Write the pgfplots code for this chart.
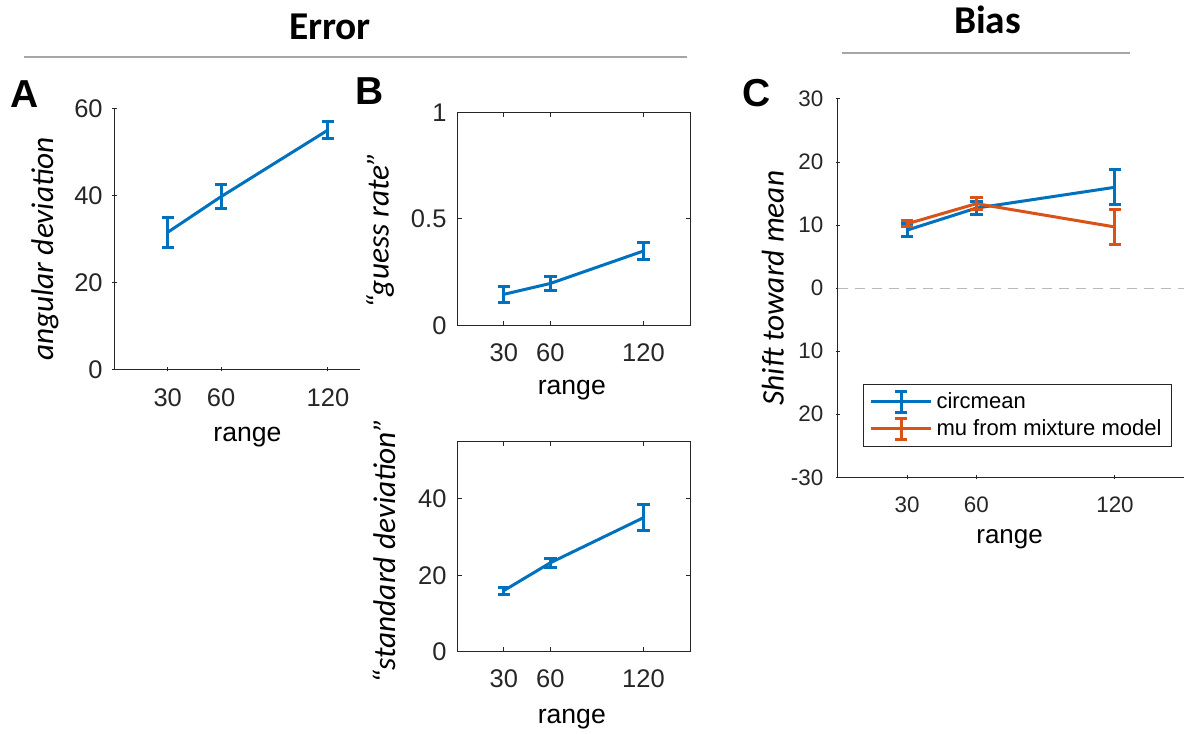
\documentclass[border=0pt]{standalone}
\usepackage{fontspec}
\setmainfont{Liberation Sans}
\newfontfamily\calibri{Carlito}
\usepackage{pgfplots}
\pgfplotsset{compat=1.18}

\definecolor{mblue}{HTML}{0072BD}
\definecolor{morange}{HTML}{D95319}
\definecolor{axgray}{HTML}{262626}

\pgfplotsset{
  matlab/.style={
    scale only axis,
    enlargelimits=false,
    tick align=inside,
    major tick length=2.2pt,
    axis line style={axgray, line width=0.5pt},
    tick style={axgray, line width=0.5pt},
    tick label style={text=axgray},
    /pgf/number format/assume math mode=true,
    xmin=0, xmax=150, xtick={30,60,120},
    ylabel style={font=\calibri\itshape\fontsize{15.7}{18}\selectfont, anchor=center},
    xlabel style={anchor=center},
  },
  errline/.style={
    line width=1.5pt, color=#1, no markers,
    /pgfplots/error bars/y dir=both,
    /pgfplots/error bars/y explicit,
    /pgfplots/error bars/error bar style={line width=1.5pt, color=#1},
    /pgfplots/error bars/error mark options={line width=1.5pt, mark size=3.1pt, color=#1, rotate=90},
  },
  legerr/.style={
    /pgfplots/legend image code/.code={
      \draw[#1, line width=1.5pt] (0pt,0pt) -- (30pt,0pt);
      \draw[#1, line width=1.5pt] (15pt,-5.4pt) -- (15pt,5.4pt);
      \draw[#1, line width=1.5pt] (12pt,-5.4pt) -- (18pt,-5.4pt);
      \draw[#1, line width=1.5pt] (12pt,5.4pt) -- (18pt,5.4pt);
    }
  },
}

\begin{document}
\begin{tikzpicture}
\useasboundingbox (0,0) rectangle (593pt,366.5pt);

% section headers
\node[anchor=base, font=\calibri\bfseries\fontsize{19.7}{22}\selectfont] at (165pt,346.5pt) {Error};
\draw[gray!70, line width=1pt] (12pt,338.15pt) -- (343.5pt,338.15pt);
\node[anchor=base, font=\calibri\bfseries\fontsize{19.7}{22}\selectfont] at (493.75pt,349.85pt) {Bias};
\draw[gray!70, line width=1pt] (420.85pt,339.85pt) -- (565pt,339.85pt);

% panel letters
\node[anchor=base west, inner sep=0pt, font=\bfseries\fontsize{19.5}{22}\selectfont] at (5pt,312.5pt) {A};
\node[anchor=base west, inner sep=0pt, font=\bfseries\fontsize{19.5}{22}\selectfont] at (177.5pt,314pt) {B};
\node[anchor=base west, inner sep=0pt, font=\bfseries\fontsize{19.5}{22}\selectfont] at (370.85pt,313.15pt) {C};

% A: angular deviation
\begin{axis}[matlab,
    at={(57.15pt,181.85pt)}, anchor=south west,
    width=122.85pt, height=130.5pt,
    axis lines=left, axis line style={-},
    xmax=138, ymin=0, ymax=60, ytick={0,20,40,60},
    tick label style={font=\fontsize{12.75}{15}\selectfont},
    xticklabel style={yshift=-5pt},
    yticklabel style={xshift=-1.2pt},
    xlabel={range},
    xlabel style={at={(axis description cs:0.542,-0.259)}, font=\fontsize{13.3}{16}\selectfont},
    ylabel={angular deviation},
    ylabel style={at={(axis description cs:-0.282,0.461)}},
]
\addplot[errline=mblue] coordinates {
    (30,31.5) +- (0,3.5)
    (60,39.7) +- (0,2.7)
    (120,55.0) +- (0,1.9)
};
\end{axis}

% B top: guess rate
\begin{axis}[matlab,
    at={(228.65pt,203.65pt)}, anchor=south west,
    width=116.35pt, height=106.7pt,
    ymin=0, ymax=1, ytick={0,0.5,1},
    tick label style={font=\fontsize{12.75}{15}\selectfont},
    xticklabel style={yshift=-5.4pt},
    yticklabel style={xshift=-1.9pt},
    xlabel={range},
    xlabel style={at={(axis description cs:0.492,-0.301)}, font=\fontsize{13.3}{16}\selectfont},
    ylabel={“guess rate”},
    ylabel style={at={(axis description cs:-0.332,0.448)}},
]
\addplot[errline=mblue] coordinates {
    (30,0.147) +- (0,0.036)
    (60,0.198) +- (0,0.031)
    (120,0.350) +- (0,0.040)
};
\end{axis}

% B bottom: standard deviation
\begin{axis}[matlab,
    at={(228.65pt,40.65pt)}, anchor=south west,
    width=116.35pt, height=105pt,
    ymin=0, ymax=55, ytick={0,20,40},
    tick label style={font=\fontsize{12.75}{15}\selectfont},
    xticklabel style={yshift=-5.4pt},
    yticklabel style={xshift=-1.9pt},
    xlabel={range},
    xlabel style={at={(axis description cs:0.492,-0.32)}, font=\fontsize{13.3}{16}\selectfont},
    ylabel={“standard deviation”},
    ylabel style={at={(axis description cs:-0.315,0.48)}},
]
\addplot[errline=mblue] coordinates {
    (30,16.0) +- (0,0.9)
    (60,23.3) +- (0,1.2)
    (120,35.1) +- (0,3.4)
};
\end{axis}

% C: bias
\begin{axis}[matlab,
    at={(418.85pt,127.85pt)}, anchor=south west,
    width=173.3pt, height=189.15pt,
    axis lines=left, axis line style={-},
    ymin=-30, ymax=30, ytick={-30,-20,-10,0,10,20,30},
    yticklabels={-30,20,10,0,10,20,30},
    tick label style={font=\fontsize{11.2}{13}\selectfont},
    xticklabel style={yshift=-5.1pt},
    yticklabel style={xshift=-2.6pt},
    xlabel={range},
    xlabel style={at={(axis description cs:0.496,-0.163)}, font=\fontsize{13}{16}\selectfont},
    ylabel={Shift toward mean},
    ylabel style={at={(axis description cs:-0.187,0.5)}},
    legend style={at={(axis description cs:0.073,0.2466)}, anchor=north west,
        font=\fontsize{11}{13}\selectfont, draw=axgray, line width=0.5pt,
        cells={anchor=west}},
]
\addplot[forget plot, gray!55, line width=0.5pt, dash pattern=on 5pt off 3.5pt] coordinates {(0,0) (150,0)};
\addplot[legerr=mblue, errline=mblue] coordinates {
    (30,9.2) +- (0,1.0)
    (60,12.7) +- (0,1.05)
    (120,16.0) +- (0,2.8)
};
\addlegendentry{circmean}
\addplot[legerr=morange, errline=morange] coordinates {
    (30,10.2) +- (0,0.5)
    (60,13.4) +- (0,1.0)
    (120,9.7) +- (0,2.7)
};
\addlegendentry{mu from mixture model}
\end{axis}
\end{tikzpicture}
\end{document}
